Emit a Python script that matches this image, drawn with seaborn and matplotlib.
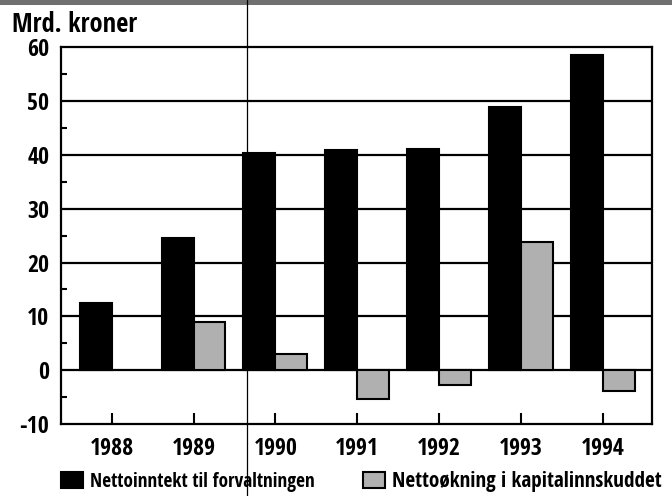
import matplotlib
matplotlib.use("Agg")
import matplotlib.pyplot as plt
import numpy as np
import pandas as pd
import seaborn as sns
from matplotlib import font_manager
from matplotlib.lines import Line2D
from matplotlib.patches import Patch, Rectangle
from matplotlib.ticker import MultipleLocator

years = ["1988", "1989", "1990", "1991", "1992", "1993", "1994"]
netto_inntekt = [12.4, 24.6, 40.4, 40.9, 41.1, 48.9, 58.5]
netto_okning = [np.nan, 9.0, 3.0, -5.4, -2.8, 23.9, -3.8]
series_names = ["Nettoinntekt til forvaltningen", "Nettoøkning i kapitalinnskuddet"]
y_label = "Mrd. kroner"

df = pd.DataFrame({
    "year": years * 2,
    "series": [series_names[0]] * len(years) + [series_names[1]] * len(years),
    "value": netto_inntekt + netto_okning,
})

# narrow bold sans, close to the Helvetica Narrow of the original
installed = {f.name for f in font_manager.fontManager.ttflist}
if "Open Sans Condensed" in installed:
    font = "Open Sans Condensed"
    tick_fs, label_fs, legend_fs = 17.2, 19, [13.9, 15.2]
else:
    font = "Liberation Sans"
    tick_fs, label_fs, legend_fs = 13.8, 16.8, [12.2, 13.4]

sns.set_theme(style="white")
plt.rcParams["font.family"] = [font, "DejaVu Sans"]
plt.rcParams["font.weight"] = "bold"
plt.rcParams["axes.unicode_minus"] = False

fig = plt.figure(figsize=(6.72, 4.96), dpi=100)
ax = fig.add_axes([0.0908, 0.145, 0.879, 0.760])

palette = {series_names[0]: "black", series_names[1]: "#b0b0b0"}
sns.barplot(
    data=df, x="year", y="value", hue="series", order=years,
    hue_order=series_names, palette=palette, width=0.78,
    errorbar=None, edgecolor="black", linewidth=1.5, saturation=1,
    legend=False, ax=ax, zorder=3,
)

ax.set_xlim(-0.62, 6.6)
ax.set_ylim(-10, 60)
ax.yaxis.set_major_locator(MultipleLocator(10))
ax.yaxis.set_minor_locator(MultipleLocator(5))
for y in range(0, 60, 10):
    ax.axhline(y, color="black", linewidth=1.6, zorder=1)

for s in ax.spines.values():
    s.set_color("black")
    s.set_linewidth(1.6)
    s.set_visible(True)

ax.tick_params(axis="y", which="major", length=0, pad=8.5, labelsize=tick_fs)
ax.tick_params(axis="y", which="minor", direction="in", length=4, width=1.5,
               color="black", left=True)
ax.tick_params(axis="x", which="major", direction="in", length=8, width=1.5,
               color="black", bottom=True, pad=9, labelsize=tick_fs)
ax.set_xlabel("")
ax.set_ylabel("")
for lab in ax.get_xticklabels() + ax.get_yticklabels():
    lab.set_fontweight("bold")
    lab.set_color("black")

fig.text(0.018, 0.950, y_label, fontsize=label_fs, fontweight="bold", va="center",
         ha="left", color="black")

# one legend entry each, placed like the original
for name, x0, size in zip(series_names, [0.091, 0.540], legend_fs):
    fig.legend([Patch(facecolor=palette[name], edgecolor="black", linewidth=1.5)], [name],
               loc="lower left", bbox_to_anchor=(x0, 0.008), borderpad=0,
               borderaxespad=0, frameon=False, handlelength=22 / (size * 1.389),
               handleheight=17 / (size * 1.389), handletextpad=0.35,
               labelcolor="black", prop={"weight": "bold", "size": size})

# scan artefacts: dark band on top and a thin vertical crease
fig.add_artist(Rectangle((0, 0.99), 1, 0.01, transform=fig.transFigure,
                         facecolor="#707070", edgecolor="none"))
fig.add_artist(Line2D([0.368, 0.368], [0.0, 1.0], transform=fig.transFigure,
                      color="black", linewidth=0.9))

fig.savefig("out.png", dpi=100)
